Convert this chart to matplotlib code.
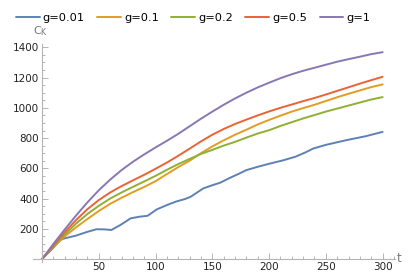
import matplotlib
matplotlib.use("Agg")
import matplotlib.pyplot as plt
from matplotlib.ticker import MultipleLocator

# values
t_grid = [0, 10, 20, 30, 40, 50, 60, 70, 80, 90, 100, 110, 120, 130, 140, 150,
          160, 170, 180, 190, 200, 210, 220, 230, 240, 250, 260, 270, 280, 290, 300]
g1 = [0, 100, 196, 288, 375, 455, 525, 588, 643, 692, 738, 782, 828, 878, 928, 975,
      1020, 1062, 1100, 1135, 1166, 1196, 1222, 1245, 1265, 1285, 1305, 1322, 1338, 1355, 1368]
g05 = [0, 90, 178, 258, 330, 390, 440, 482, 520, 557, 597, 638, 683, 730, 778, 822,
       860, 893, 922, 950, 976, 1000, 1022, 1044, 1065, 1088, 1112, 1136, 1160, 1183, 1205]
g02 = [0, 84, 162, 235, 298, 352, 400, 440, 477, 513, 550, 590, 628, 662, 695, 722,
       750, 775, 803, 830, 852, 880, 905, 930, 952, 975, 995, 1015, 1035, 1055, 1071]
g01 = [0, 80, 150, 210, 265, 318, 365, 405, 442, 477, 515, 562, 608, 650, 700, 745,
       785, 822, 855, 890, 920, 948, 975, 998, 1020, 1045, 1070, 1093, 1115, 1137, 1155]
t_low = [0, 10, 16, 20, 30, 40, 48, 55, 61, 69, 78, 86, 93, 101, 110, 118, 126, 131,
         142, 150, 157, 165, 174, 180, 190, 200, 212, 223, 232, 239, 250, 268, 285, 300]
g001 = [0, 75, 126, 137, 155, 180, 197, 196, 192, 225, 269, 280, 286, 328, 357, 380,
        397, 412, 467, 488, 505, 535, 566, 588, 610, 630, 652, 676, 705, 731, 755, 786,
        812, 841]

labels = ["g=0.01", "g=0.1", "g=0.2", "g=0.5", "g=1"]
colors = ["#5E81B5", "#E19C24", "#8FB032", "#EB6235", "#8778B3"]

fig = plt.figure(figsize=(4.15, 2.77), dpi=100)
ax = fig.add_axes([0.0795, 0.054, 0.8725, 0.786])

series = [(t_low, g001), (t_grid, g01), (t_grid, g02), (t_grid, g05), (t_grid, g1)]
for (tt, yy), lab, col in zip(series, labels, colors):
    ax.plot(tt, yy, color=col, lw=1.4, label=lab, solid_capstyle="round",
            solid_joinstyle="round")

ax.set_xlim(-8, 311)
ax.set_ylim(-20, 1420)
ax.spines["left"].set_position(("data", 0))
ax.spines["bottom"].set_position(("data", 0))
for side in ["top", "right"]:
    ax.spines[side].set_visible(False)
for side in ["left", "bottom"]:
    ax.spines[side].set_color("#b4b4b4")
    ax.spines[side].set_linewidth(0.8)

ax.xaxis.set_minor_locator(MultipleLocator(10))
ax.yaxis.set_minor_locator(MultipleLocator(50))
ax.set_xticks([50, 100, 150, 200, 250, 300])
ax.set_yticks([200, 400, 600, 800, 1000, 1200, 1400])
ax.tick_params(which="both", direction="in", color="#b4b4b4", labelsize=7.5,
               labelcolor="#222222", width=0.7, pad=2)
ax.tick_params(which="major", length=4)
ax.tick_params(which="minor", length=2.3)

ax.text(1.005, 0.014, "t", transform=ax.transAxes, fontsize=8.5, color="#777777",
        ha="left", va="center")
ax.text(0.022, 1.03, r"C$_\mathregular{K}$", transform=ax.transAxes, fontsize=8,
        color="#777777", ha="center", va="bottom")

ax.legend(loc="upper center", bbox_to_anchor=(0.442, 1.19), ncol=5, frameon=False,
          fontsize=8.2, handlelength=2.1, handletextpad=0.25, columnspacing=1.1)

fig.savefig("out.png", dpi=100)
